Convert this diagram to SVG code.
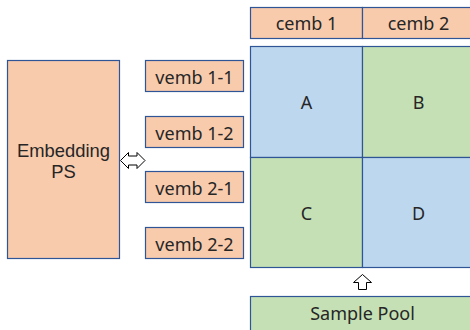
<svg xmlns="http://www.w3.org/2000/svg" width="470" height="330" viewBox="0 0 470 330">
<style>
.o{fill:#F8CBAD;stroke:#2F5597;stroke-width:1.2}
.b{fill:#BDD7EE;stroke:#2F5597;stroke-width:1.2}
.g{fill:#C5E0B4;stroke:#2F5597;stroke-width:1.2}
text{font-family:"Noto Sans","Liberation Sans",sans-serif;font-size:18px;fill:#262626;text-anchor:middle}
.ps{font-family:"Liberation Sans","Noto Sans",sans-serif;font-size:18.4px}
.arr{fill:#fff;stroke:#000;stroke-width:1;stroke-linejoin:miter}
</style>
<rect width="470" height="330" fill="#fff"/>
<g id="embedding-ps"><rect class="o" x="7.5" y="60.5" width="112" height="198"/><text class="ps" x="63.5" y="157">Embedding</text><text class="ps" x="63.5" y="178">PS</text></g>
<g id="vemb-1-1"><rect class="o" x="145.5" y="60.5" width="98" height="31"/><text x="194.5" y="84">vemb 1-1</text></g>
<g id="vemb-1-2"><rect class="o" x="145.5" y="116.5" width="98" height="31"/><text x="194.5" y="140">vemb 1-2</text></g>
<g id="vemb-2-1"><rect class="o" x="145.5" y="171.5" width="98" height="31"/><text x="194.5" y="195">vemb 2-1</text></g>
<g id="vemb-2-2"><rect class="o" x="145.5" y="227.5" width="98" height="31"/><text x="194.5" y="251">vemb 2-2</text></g>
<g id="cemb-1"><rect class="o" x="250.5" y="7.5" width="112" height="31"/><text x="306.5" y="30">cemb 1</text></g>
<g id="cemb-2"><rect class="o" x="362.5" y="7.5" width="112" height="31"/><text x="418.5" y="30">cemb 2</text></g>
<g id="cell-a"><rect class="b" x="250.5" y="46.5" width="112" height="111"/><text x="306.5" y="109">A</text></g>
<g id="cell-b"><rect class="g" x="362.5" y="46.5" width="112" height="111"/><text x="418.5" y="109">B</text></g>
<g id="cell-c"><rect class="g" x="250.5" y="157.5" width="112" height="110"/><text x="306.5" y="220">C</text></g>
<g id="cell-d"><rect class="b" x="362.5" y="157.5" width="112" height="110"/><text x="418.5" y="220">D</text></g>
<g id="sample-pool"><rect class="g" x="250.5" y="296.5" width="224" height="40"/><text x="362.5" y="320">Sample Pool</text></g>
<g id="connectors">
<path class="arr" d="M120.5,160.5 L128.5,152.5 L128.5,156 L137,156 L137,152.5 L145,160.5 L137,168.5 L137,165 L128.5,165 L128.5,168.5 Z"/>
<path class="arr" d="M362.5,274.5 L371.5,282.5 L366.5,282.5 L366.5,289.5 L358.5,289.5 L358.5,282.5 L353.5,282.5 Z"/>
</g>
</svg>
